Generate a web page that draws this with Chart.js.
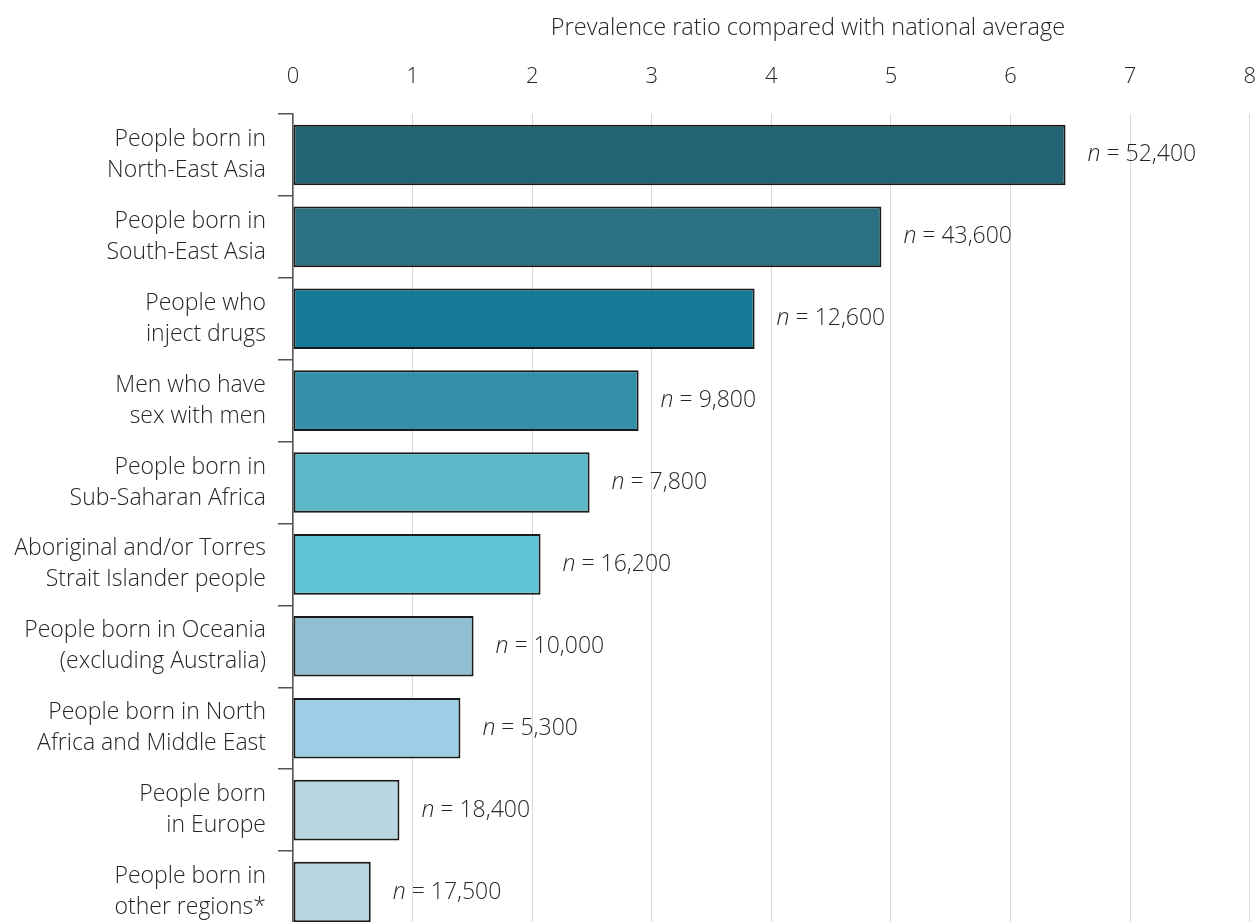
<!DOCTYPE html>
<html>
<head>
<meta charset="utf-8">
<script src="https://cdn.jsdelivr.net/npm/chart.js@4.4.1/dist/chart.umd.min.js"></script>
<style>
  html, body { margin: 0; padding: 0; background: #fff; overflow: hidden; }
  #wrap { position: relative; width: 1280px; height: 976px; }
</style>
</head>
<body>
<div id="wrap"><canvas id="prevalence-chart"></canvas></div>
<script>
// categories (multi-line labels as shown)
const groups = [
  ['People born in', 'North-East Asia'],
  ['People born in', 'South-East Asia'],
  ['People who', 'inject drugs'],
  ['Men who have', 'sex with men'],
  ['People born in', 'Sub-Saharan Africa'],
  ['Aboriginal and/or Torres', 'Strait Islander people'],
  ['People born in Oceania', '(excluding Australia)'],
  ['People born in North', 'Africa and Middle East'],
  ['People born', 'in Europe'],
  ['People born in', 'other regions*']
];
// prevalence ratio vs national average
const ratios = [6.46, 4.92, 3.86, 2.89, 2.48, 2.07, 1.51, 1.40, 0.89, 0.65];
// number of people (n)
const counts = ['52,400', '43,600', '12,600', '9,800', '7,800', '16,200', '10,000', '5,300', '18,400', '17,500'];
const barColors = ['#236474', '#2b7182', '#157a98', '#3390a8', '#5bb8c6',
                   '#5fc4d5', '#91bed3', '#9ccfe5', '#bad6e2', '#bad6e2'];
const axisTitle = 'Prevalence ratio compared with national average';

const FONT = "'Open Sans', 'Noto Sans', sans-serif";
const TEXT = '#262626';

// draws "n = 52,400" next to each bar, with italic n, plus the axis title
const countLabels = {
  id: 'countLabels',
  afterDatasetsDraw(chart) {
    const ctx = chart.ctx;
    const meta = chart.getDatasetMeta(0);
    ctx.save();
    ctx.fillStyle = TEXT;
    ctx.textBaseline = 'middle';
    ctx.textAlign = 'left';
    meta.data.forEach((bar, i) => {
      let x = bar.x + 22;
      ctx.font = 'italic 300 23px ' + FONT;
      ctx.fillText('n', x, bar.y);
      x += ctx.measureText('n').width;
      ctx.font = '300 23px ' + FONT;
      ctx.fillText(' = ' + counts[i], x, bar.y);
    });
    // axis title sits a bit right of the plot centre in the original
    ctx.font = '300 23.5px ' + FONT;
    ctx.textAlign = 'center';
    ctx.fillText(axisTitle, 808, 28);
    ctx.restore();
  }
};

let prevCtx = document.getElementById('prevalence-chart').getContext('2d');
let prevChart = new Chart(prevCtx, {
  type: 'bar',
  data: {
    labels: groups,
    datasets: [{
      data: ratios,
      backgroundColor: barColors,
      borderColor: '#1a1a1a',
      borderWidth: 2,
      borderSkipped: false,
      barPercentage: 0.74,
      categoryPercentage: 1
    }]
  },
  options: {
    indexAxis: 'y',
    responsive: true,
    maintainAspectRatio: false,
    animation: false,
    layout: { padding: { top: 0, right: 9, left: 0, bottom: 0 } },
    plugins: {
      legend: { display: false },
      tooltip: { enabled: false }
    },
    scales: {
      x: {
        position: 'top',
        min: 0,
        max: 8,
        ticks: {
          stepSize: 1,
          color: '#262626',
          padding: 24,
          font: { family: FONT, size: 22, weight: 300 }
        },
        grid: { color: '#d9d9d9', lineWidth: 1, drawTicks: false },
        border: { display: false },
        afterFit(scale) { scale.height = 114; }
      },
      y: {
        ticks: {
          color: TEXT,
          padding: 12,
          font: { family: FONT, size: 23, weight: 300, lineHeight: 1.35 }
        },
        grid: {
          offset: true,
          drawOnChartArea: false,
          drawTicks: true,
          tickLength: 15,
          color: '#555',
          lineWidth: 1.5
        },
        border: { display: true, color: '#555', width: 1.5 },
        afterFit(scale) { scale.width = 293; }
      }
    }
  },
  plugins: [countLabels]
});
</script>
</body>
</html>
